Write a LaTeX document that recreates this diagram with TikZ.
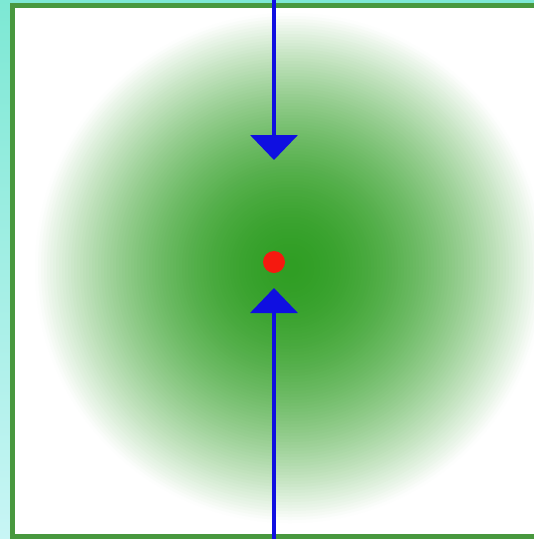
\documentclass[tikz,border=0pt]{standalone}
\usetikzlibrary{arrows.meta}
\definecolor{bgcyan}{RGB}{125,232,212}
\definecolor{bgcyanlight}{RGB}{200,245,245}
\definecolor{frame}{RGB}{72,152,62}
\definecolor{glow}{RGB}{48,158,36}
\definecolor{arrowblue}{RGB}{15,15,225}
\definecolor{dotred}{RGB}{245,25,15}
\tikzset{
  blueline/.style={draw=arrowblue, line width=4pt, -{Triangle[width=47pt,length=25pt]}},
  framebox/.style={draw=frame, line width=4.5pt, fill=white},
}
\begin{document}
\begin{tikzpicture}[x=1pt,y=-1pt]
\useasboundingbox (0,0) rectangle (534,539);
\shade[top color=bgcyan, bottom color=bgcyanlight] (0,0) rectangle (534,539);
\draw[framebox] (12.5,5.5) rectangle (545,536.5);
\begin{scope}
  \clip (14.75,7.75) rectangle (545,534.25);
  \foreach \r in {258,255,...,3} {
    \pgfmathsetmacro{\p}{min(100,max(0,100*(1-(\r/256)^1.8)))}
    \fill[glow!\p!white] (290,268) circle (\r pt);
  }
\end{scope}
\coordinate (topend) at (274,0);
\coordinate (toptip) at (274,160);
\coordinate (botend) at (274,539);
\coordinate (bottip) at (274,288);
\draw[blueline] (topend) -- (toptip);
\draw[blueline] (botend) -- (bottip);
\node[circle, fill=dotred, minimum size=22pt, inner sep=0pt] (dot) at (274,262) {};
\end{tikzpicture}
\end{document}
